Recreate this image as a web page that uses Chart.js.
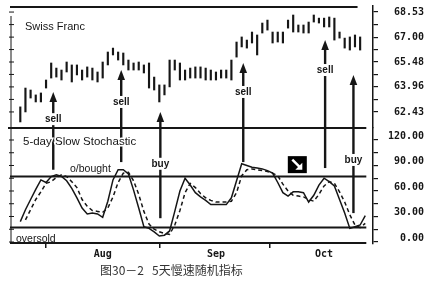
<!DOCTYPE html>
<html>
<head>
<meta charset="utf-8">
<script src="https://cdn.jsdelivr.net/npm/chart.js@4.4.1/dist/chart.umd.min.js"></script>
<style>
  html, body { margin: 0; padding: 0; background: #fff; }
  canvas { display: block; }
</style>
</head>
<body>
<canvas id="chart" width="436" height="285"></canvas>
<script>
// daily price bars (high / low), one per trading day
const highs = [62.74, 63.89, 63.77, 63.47, 63.59, 64.38, 65.42, 65.11, 64.99, 65.48,
  65.30, 65.30, 64.99, 65.18, 65.11, 64.87, 65.48, 66.09, 66.33, 66.09,
  66.03, 65.60, 65.42, 65.48, 65.30, 65.42, 64.56, 64.08, 64.08, 65.60,
  65.60, 65.42, 64.99, 65.11, 65.18, 65.18, 65.11, 64.99, 64.87, 64.99,
  64.99, 65.60, 66.70, 67.01, 66.82, 67.31, 67.13, 67.86, 68.04, 67.31,
  67.31, 67.31, 68.04, 68.35, 67.74, 67.74, 67.92, 68.35, 68.16, 68.16,
  68.23, 68.16, 67.31, 66.94, 67.01, 67.13, 67.01];
const lows = [61.82, 62.43, 63.28, 63.04, 63.04, 63.89, 64.50, 64.56, 64.38, 64.87,
  64.26, 64.69, 64.38, 64.56, 64.38, 64.26, 64.50, 65.30, 65.91, 65.60,
  65.30, 64.99, 64.99, 64.99, 64.81, 63.89, 63.77, 63.04, 63.47, 63.96,
  64.99, 64.38, 64.38, 64.50, 64.50, 64.50, 64.38, 64.38, 64.38, 64.50,
  64.50, 64.38, 65.78, 66.40, 66.33, 66.64, 65.91, 67.25, 67.43, 66.64,
  66.70, 66.64, 67.55, 67.31, 67.31, 67.25, 67.25, 67.92, 67.86, 67.62,
  67.62, 66.82, 66.94, 66.33, 66.21, 66.40, 66.21];

// 5-day slow stochastic: %K (solid) and %D (dashed)
const pctK = [24, 38, 50, 62, 73, 70, 77, 79, 77, 72,
  63, 52, 40, 33, 34, 33, 29, 48, 73, 85,
  85, 80, 61, 40, 18, 16, 12, 7, 8, 13,
  36, 60, 75, 67, 58, 53, 49, 44, 44, 44,
  44, 52, 72, 92, 90, 88, 87, 86, 84, 81,
  70, 58, 54, 59, 59, 58, 47, 55, 67, 75,
  71, 66, 50, 34, 16, 18, 20, 31];
const pctD = [null, 26, 38, 50, 59, 69, 71, 76, 79, 77,
  71, 64, 50, 42, 37, 36, 35, 40, 53, 70,
  81, 82, 72, 56, 36, 21, 15, 12, 10, 9,
  20, 37, 58, 69, 64, 57, 52, 49, 47, 47,
  47, 48, 58, 78, 85, 86, 85, 84, 83, 81,
  78, 68, 60, 55, 54, 53, 50, 48, 56, 66,
  71, 69, 59, 47, 32, 20, 17, 22];

const overbought = 77;
const oversold = 17;

const monthDays = [16, 38, 59];
const monthLabels = ['Aug', 'Sep', 'Oct'];
const priceTicks = [62.43, 63.96, 65.48, 67.00, 68.53];
const stochTicks = [0, 30, 60, 90, 120];

// buy / sell signals
const signalDays = [6.4, 19.6, 27.2, 43.3, 59.2, 64.7];
const signalText = ['sell', 'sell', 'buy', 'sell', 'sell', 'buy'];
const signalTip = [63.65, 64.99, 62.43, 65.42, 66.82, 64.69];   // price at arrow head
const signalFoot = [85, 94, 28, 94, 87, 34];                    // stochastic at line foot
const signalLabelPanel = ['p', 'p', 's', 'p', 'p', 's'];
const signalLabelAt = [61.99, 63.04, 92, 63.65, 64.99, 96.5];

const noteDay = 53.8, noteStoch = 91;

const ink = '#161616';

function majorMinor(list) {
  const out = [];
  list.forEach((v, i) => {
    out.push({ value: v, major: true });
    if (i < list.length - 1) out.push({ value: (v + list[i + 1]) / 2, major: false });
  });
  return out;
}

const deco = {
  id: 'deco',
  beforeDatasetsDraw(chart) {
    const { ctx, chartArea: a, scales } = chart;
    const x = scales.x, yp = scales.yPrice, ys = scales.yStoch;
    ctx.save();
    ctx.strokeStyle = ink;
    ctx.lineWidth = 2;
    const hline = (y, x0, x1) => { ctx.beginPath(); ctx.moveTo(x0, y); ctx.lineTo(x1, y); ctx.stroke(); };
    const endX = x.getPixelForValue(67.2);
    hline(yp.top + 1, a.left, x.getPixelForValue(65.5));
    hline(yp.bottom, a.left - 2, endX);
    hline(ys.getPixelForValue(overbought), a.left, endX);
    hline(ys.getPixelForValue(oversold), a.left, endX);
    hline(ys.bottom - 1, a.left, endX);

    // thin left axis with crossing ticks
    ctx.lineWidth = 1;
    const lx = a.left + 1;
    ctx.beginPath(); ctx.moveTo(lx, yp.top + 10); ctx.lineTo(lx, ys.bottom); ctx.stroke();
    yp.ticks.concat(ys.ticks.map(t => ({ value: t.value, s: true }))).forEach(t => {
      const y = t.s ? ys.getPixelForValue(t.value) : yp.getPixelForValue(t.value);
      ctx.beginPath(); ctx.moveTo(lx - 2, y); ctx.lineTo(lx + 3, y); ctx.stroke();
    });

    // panel texts
    ctx.fillStyle = ink;
    ctx.textBaseline = 'middle';
    ctx.textAlign = 'left';
    ctx.font = '11px "Liberation Sans", Arial, sans-serif';
    ctx.fillText('Swiss Franc', 25, 27);
    ctx.font = '10.5px "Liberation Sans", Arial, sans-serif';
    ctx.fillText('o/bought', 70, 169);
    ctx.fillText('oversold', 16, 239);
    ctx.restore();
  },
  afterDatasetsDraw(chart) {
    const { ctx, scales } = chart;
    const x = scales.x, yp = scales.yPrice, ys = scales.yStoch;
    ctx.save();
    ctx.strokeStyle = ink;
    ctx.fillStyle = ink;
    signalDays.forEach((d, i) => {
      const px = x.getPixelForValue(d);
      const tip = yp.getPixelForValue(signalTip[i]);
      const foot = ys.getPixelForValue(signalFoot[i]);
      ctx.lineWidth = 2.4;
      ctx.beginPath(); ctx.moveTo(px, tip + 6); ctx.lineTo(px, foot); ctx.stroke();
      ctx.beginPath();
      ctx.moveTo(px, tip); ctx.lineTo(px - 3.8, tip + 10); ctx.lineTo(px + 3.8, tip + 10);
      ctx.closePath(); ctx.fill();
    });
    // white-backed labels on the arrows
    ctx.font = 'bold 10px "Liberation Sans", Arial, sans-serif';
    ctx.textAlign = 'center';
    ctx.textBaseline = 'middle';
    signalDays.forEach((d, i) => {
      const px = x.getPixelForValue(d);
      const sc = signalLabelPanel[i] === 'p' ? yp : ys;
      const ly = sc.getPixelForValue(signalLabelAt[i]);
      const w = ctx.measureText(signalText[i]).width + 2;
      ctx.fillStyle = '#fff';
      ctx.fillRect(px - w / 2, ly - 6, w, 12);
      ctx.fillStyle = ink;
      ctx.fillText(signalText[i], px, ly);
    });

    // title of the lower panel (over the arrow line)
    ctx.textAlign = 'left';
    ctx.font = '11.5px "Liberation Sans", Arial, sans-serif';
    ctx.lineWidth = 3;
    ctx.strokeStyle = '#fff';
    ctx.strokeText('5-day Slow Stochastic', 23, 142);
    ctx.fillText('5-day Slow Stochastic', 23, 142);

    // black note box with a white down-right arrow
    const bx = x.getPixelForValue(noteDay), by = ys.getPixelForValue(noteStoch);
    ctx.fillStyle = '#000';
    ctx.fillRect(bx - 9.5, by - 8.5, 19, 17);
    ctx.strokeStyle = '#fff';
    ctx.fillStyle = '#fff';
    ctx.lineWidth = 2.5;
    ctx.beginPath(); ctx.moveTo(bx - 5, by - 5); ctx.lineTo(bx + 2, by + 2); ctx.stroke();
    ctx.beginPath();
    ctx.moveTo(bx + 5, by + 5); ctx.lineTo(bx - 2, by + 5); ctx.lineTo(bx + 5, by - 2);
    ctx.closePath(); ctx.fill();

    // caption
    ctx.fillStyle = '#333';
    ctx.font = '12px "Noto Sans CJK SC", sans-serif';
    ctx.textAlign = 'left';
    ctx.fillText('图30－2   5天慢速随机指标', 100, 270);
    ctx.restore();
  }
};

const tickFont = { family: '"DejaVu Sans Mono", monospace', size: 10, weight: 'bold' };

new Chart(document.getElementById('chart'), {
  type: 'bar',
  data: {
    datasets: [
      {
        type: 'bar',
        data: highs.map((h, i) => ({ x: i, y: [lows[i], h] })),
        backgroundColor: ink,
        barThickness: 1.5,
        xAxisID: 'x',
        yAxisID: 'yPrice'
      },
      {
        type: 'line',
        data: pctK.map((v, i) => ({ x: i, y: v })),
        borderColor: ink,
        borderWidth: 1.5,
        pointRadius: 0,
        tension: 0,
        xAxisID: 'x',
        yAxisID: 'yStoch'
      },
      {
        type: 'line',
        data: pctD.map((v, i) => ({ x: i, y: v })),
        borderColor: ink,
        borderWidth: 1.5,
        borderDash: [4, 3],
        pointRadius: 0,
        tension: 0,
        xAxisID: 'x',
        yAxisID: 'yStoch'
      }
    ]
  },
  options: {
    responsive: false,
    animation: false,
    devicePixelRatio: 1,
    layout: { padding: { left: 10, right: 12, top: 6, bottom: 23 } },
    plugins: { legend: { display: false }, tooltip: { enabled: false } },
    scales: {
      x: {
        type: 'linear',
        min: -2,
        max: 68.5,
        offset: false,
        border: { display: false },
        grid: { drawOnChartArea: false, tickLength: 4, color: ink, lineWidth: 1.5 },
        afterBuildTicks: axis => { axis.ticks = monthDays.map(v => ({ value: v })); },
        afterFit: axis => { axis.height = 18; },
        ticks: {
          autoSkip: false,
          maxRotation: 0,
          padding: 0,
          color: ink,
          font: { family: '"DejaVu Sans Mono", monospace', size: 10, weight: 'bold' },
          callback: (v, i) => monthLabels[i]
        }
      },
      yPrice: {
        type: 'linear',
        position: 'right',
        stack: 'panels',
        stackWeight: 122,
        min: 61.45,
        max: 68.90,
        border: { display: true, color: ink, width: 1.5 },
        grid: { drawOnChartArea: false, tickLength: 5, color: ink, lineWidth: 1.2 },
        afterBuildTicks: axis => { axis.ticks = majorMinor(priceTicks); },
        afterFit: axis => { axis.width = 51; axis.paddingTop = 0; axis.paddingBottom = 0; },
        ticks: {
          autoSkip: false,
          crossAlign: 'far',
          padding: 16,
          color: ink,
          font: tickFont,
          callback: (v, i, ticks) => ticks[i].major ? v.toFixed(2) : ''
        }
      },
      yStoch: {
        type: 'linear',
        position: 'right',
        stack: 'panels',
        stackWeight: 116,
        min: -2.35,
        max: 134.1,
        border: { display: true, color: ink, width: 1.5 },
        grid: { drawOnChartArea: false, tickLength: 5, color: ink, lineWidth: 1.2 },
        afterBuildTicks: axis => { axis.ticks = majorMinor(stochTicks); },
        afterFit: axis => { axis.width = 51; axis.paddingTop = 0; axis.paddingBottom = 0; },
        ticks: {
          autoSkip: false,
          crossAlign: 'far',
          padding: 10,
          labelOffset: -4,
          color: ink,
          font: tickFont,
          callback: (v, i, ticks) => ticks[i].major ? v.toFixed(2) : ''
        }
      }
    }
  },
  plugins: [deco]
});
</script>
</body>
</html>
